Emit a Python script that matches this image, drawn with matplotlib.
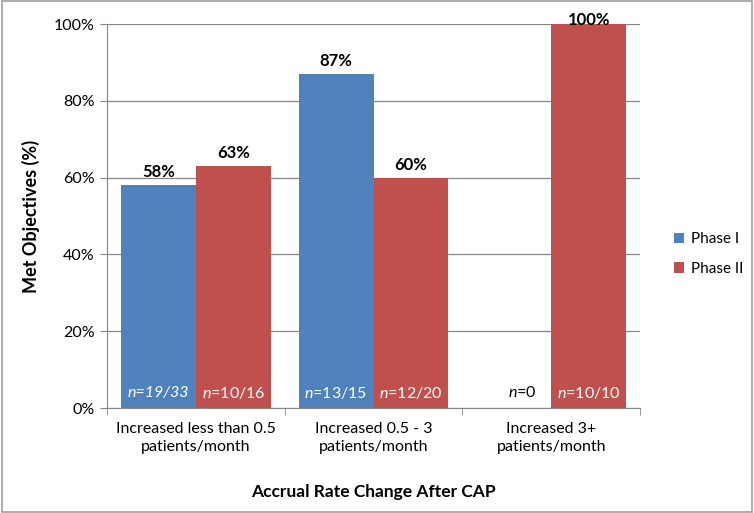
import matplotlib
matplotlib.use('Agg')
import matplotlib.pyplot as plt
import numpy as np

plt.rcParams['font.family'] = ['Lato', 'DejaVu Sans']
plt.rcParams['mathtext.fontset'] = 'custom'
plt.rcParams['mathtext.rm'] = 'Lato'
plt.rcParams['mathtext.it'] = 'Lato:italic'
plt.rcParams['mathtext.bf'] = 'Lato:bold'

categories = ['Increased less than 0.5\npatients/month',
              'Increased 0.5 - 3\npatients/month',
              'Increased 3+\npatients/month']
phase1 = [58, 87, 0]
phase2 = [63, 60, 100]
phase1_n = ['n=19/33', r'$\it{n}$=13/15', r'$\it{n}$=0']
phase1_n_italic = [True, False, False]
phase2_n = [r'$\it{n}$=10/16', r'$\it{n}$=12/20', r'$\it{n}$=10/10']
yticks = [0, 20, 40, 60, 80, 100]

BLUE = '#4F81BD'
RED = '#C0504D'
GREY = '#868686'

fig = plt.figure(figsize=(7.54, 5.13), dpi=100)
ax = fig.add_axes([107 / 754, 1 - 408 / 513, (640 - 107) / 754, (408 - 24) / 513])

x = np.arange(len(categories))
w = 0.422
b1 = ax.bar(x - w / 2, phase1, w, color=BLUE, label='Phase I', zorder=3)
b2 = ax.bar(x + w / 2, phase2, w, color=RED, label='Phase II', zorder=3)

for i in range(len(categories)):
    style = 'italic' if phase1_n_italic[i] else 'normal'
    if phase1[i] > 0:
        ax.text(x[i] - w / 2, phase1[i] + 1.3, f'{phase1[i]}%', ha='center', va='bottom',
                fontsize=12, fontweight='bold')
        ax.text(x[i] - w / 2, 4, phase1_n[i], ha='center', va='center', color='white',
                fontsize=11.5, fontstyle=style)
    else:
        ax.text(x[i] - w / 2 + 0.05, 4, phase1_n[i], ha='center', va='center', color='black',
                fontsize=11.5, fontstyle=style)
    ax.text(x[i] + w / 2, phase2[i] + 1.3 if phase2[i] < 100 else 99.0, f'{phase2[i]}%',
            ha='center', va='bottom', fontsize=12, fontweight='bold')
    ax.text(x[i] + w / 2, 4, phase2_n[i], ha='center', va='center', color='white', fontsize=11.5)

ax.set_xlim(-0.5, len(categories) - 0.5)
ax.set_ylim(0, 100)
ax.set_yticks(yticks)
ax.set_yticklabels([f'{t}%' for t in yticks], fontsize=11.5)
ax.set_xticks(x)
ax.set_xticklabels(categories, fontsize=11.5, linespacing=1.35)
ax.set_xticks(np.arange(-0.5, len(categories)), minor=True)
ax.tick_params(axis='x', which='major', length=0, pad=10)
ax.tick_params(axis='x', which='minor', length=5, color=GREY, direction='out')
ax.tick_params(axis='y', length=5, color=GREY, direction='out', pad=4)
ax.grid(axis='y', color=GREY, linewidth=0.9, zorder=0)

for s in ['top', 'right']:
    ax.spines[s].set_visible(False)
for s in ['left', 'bottom']:
    ax.spines[s].set_color(GREY)
    ax.spines[s].set_zorder(4)

ax.set_ylabel('Met Objectives (%)', fontsize=13, fontweight='bold', labelpad=10)
ax.set_xlabel('Accrual Rate Change After CAP', fontsize=12.5, fontweight='bold', labelpad=22)

fig.legend(handles=[b1, b2], loc='center left', bbox_to_anchor=(660 / 754, 1 - 254 / 513),
           frameon=False, fontsize=11, handlelength=0.7, handleheight=0.7,
           handletextpad=0.4, labelspacing=1.0)

fig.add_artist(plt.Rectangle((0.002, 0.002), 0.996, 0.996, transform=fig.transFigure,
                             fill=False, edgecolor='#A0A0A0', linewidth=1.2))

fig.savefig('out.png', dpi=100, facecolor='white')
